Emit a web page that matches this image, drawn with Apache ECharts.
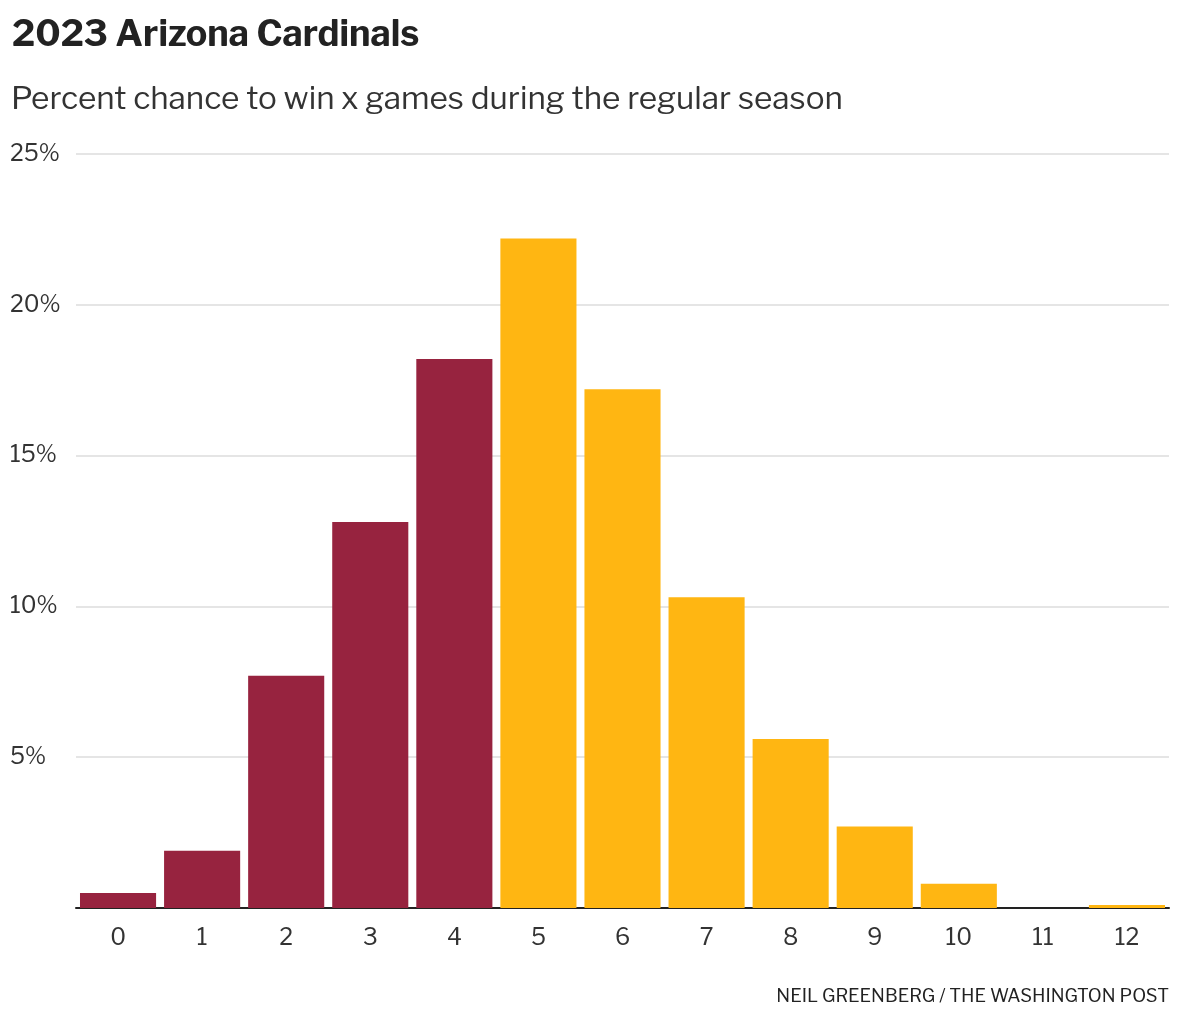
<!DOCTYPE html>
<html>
<head>
<meta charset="utf-8">
<script src="https://cdn.jsdelivr.net/npm/echarts@6/dist/echarts.min.js"></script>
<style>
html,body{margin:0;padding:0;background:#fff;}
#chart{width:1180px;height:1020px;}
</style>
</head>
<body>
<div id="chart"></div>
<script>
const titleText = "2023 Arizona Cardinals";
const subtitleText = "Percent chance to win x games during the regular season";
const creditText = "NEIL GREENBERG / THE WASHINGTON POST";
const winCategories = ["0","1","2","3","4","5","6","7","8","9","10","11","12"];
const winPercents = [0.5, 1.9, 7.7, 12.8, 18.2, 22.2, 17.2, 10.3, 5.6, 2.7, 0.8, 0, 0.1];
const yTickLabels = ["", "5%", "10%", "15%", "20%", "25%"];
const losingSeasonMax = 4; // wins 0-4 drawn in cardinal red

const RED = "#97233F", GOLD = "#FFB612";
const chart = echarts.init(document.getElementById('chart'), null, {renderer:'canvas'});
const FONT = "'Libre Franklin','Roboto','Noto Sans',sans-serif";
chart.setOption({
  animation:false,
  backgroundColor:'#fff',
  title:[
    {text:titleText, left:7, top:12, textStyle:{fontFamily:FONT, fontWeight:'bold', fontSize:36, color:'#222'}},
    {text:subtitleText, left:6, top:79, textStyle:{fontFamily:FONT, fontWeight:'normal', fontSize:31.5, color:'#333'}},
    {text:creditText, right:6, top:983, textStyle:{fontFamily:FONT, fontWeight:'normal', fontSize:18.3, color:'#222'}}
  ],
  grid:{left:76, right:11, top:154, bottom:112},
  xAxis:{
    type:'category', data:winCategories,
    axisLine:{show:true, lineStyle:{color:'#222', width:2}},
    axisTick:{show:false},
    axisLabel:{fontFamily:FONT, fontSize:23, color:'#333', margin:19}
  },
  yAxis:{
    type:'value', min:0, max:25, interval:5,
    axisLine:{show:false}, axisTick:{show:false},
    splitLine:{lineStyle:{color:'#dcdcdc', width:1.5}},
    axisLabel:{fontFamily:FONT, fontSize:23, color:'#333', align:'left', margin:66, verticalAlign:'middle',
      padding:[5,0,0,0],
      formatter:(v) => yTickLabels[Math.round(v/5)] || ''}
  },
  series:[{
    type:'bar',
    barCategoryGap:'9.5%',
    data:winPercents.map((v,i)=>({value:v, itemStyle:{color: i<=losingSeasonMax ? RED : GOLD}}))
  }]
});
</script>
</body>
</html>
